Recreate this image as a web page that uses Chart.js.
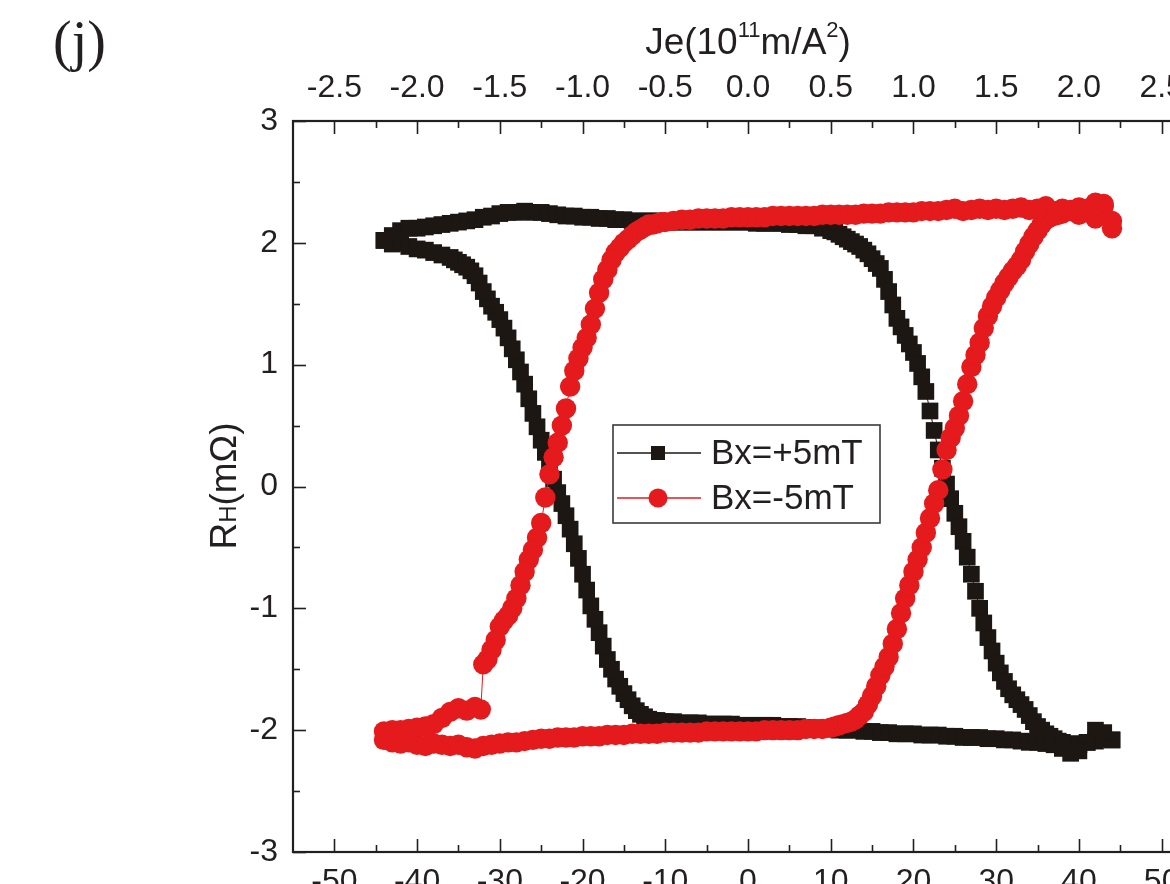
<!DOCTYPE html>
<html><head><meta charset="utf-8">
<script src="https://cdn.jsdelivr.net/npm/chart.js@4.4.0/dist/chart.umd.min.js"></script>
<style>
html,body{margin:0;padding:0;background:#fff;overflow:hidden;width:1170px;height:884px}
#wrap{position:absolute;left:0;top:0;width:1240px;height:930px}
</style></head><body>
<div id="wrap"><canvas id="c" width="1240" height="930"></canvas></div>
<script>
// ---- data (J in mA, R_H in mOhm), sweep order as measured ----
const blackJ = [
 -44,-43,-42,-41,-40,-39,-38,-37,-36,-35,
 -34,-33,-32,-31,-30,-29,-28,-27,-26,-25,
 -24,-23,-22,-21,-20,-19,-18,-17,-16,-15,
 -14,-13,-12,-11,-10,-9,-8,-7,-6,-5,
 -4,-3,-2,-1,0,1,2,3,4,5,
 6,7,8,9,
 10,10.5,11,11.5,12,12.5,13,13.5,14,14.5,
 15,15.5,16,16.5,17,17.5,18,18.5,19,19.5,
 20,20.5,21,21.5,22,22.5,23,23.5,24,24.5,
 25,25.5,26,26.5,27,27.5,28,28.5,29,29.5,
 30,30.5,31,31.5,32,32.5,33,33.5,34,34.5,
 35,35.5,36,36.5,37,37.5,38,
 39,40,41,42,43,44,
 44,43,42,41,40,39,38,37,36,35,
 34,33,32,31,30,29,28,27,26,25,
 24,23,22,21,20,19,18,17,16,15,
 14,13,12,11,10,9,8,7,6,5,
 4,3,2,1,0,-1,-2,-3,-4,-5,
 -6,-7,-8,-9,
 -10,-10.5,-11,-11.5,-12,-12.5,-13,-13.5,-14,-14.5,
 -15,-15.5,-16,-16.5,-17,-17.5,-18,-18.5,-19,-19.5,
 -20,-20.5,-21,-21.5,-22,-22.5,-23,-23.5,-24,-24.5,
 -25,-25.5,-26,-26.5,-27,-27.5,-28,-28.5,-29,-29.5,
 -30,-30.5,-31,-31.5,-32,-32.5,-33,-33.5,-34,-34.5,
 -35,-35.5,-36,
 -37,-38,-39,-40,-41,-42,-43,-44
];
const blackR = [
 2.02,2.06,2.10,2.12,2.12,2.13,2.14,2.15,2.16,2.17,
 2.18,2.19,2.21,2.22,2.24,2.25,2.25,2.26,2.25,2.25,
 2.24,2.23,2.22,2.22,2.21,2.21,2.20,2.20,2.19,2.19,
 2.18,2.18,2.18,2.18,2.17,2.17,2.17,2.17,2.17,2.17,
 2.17,2.17,2.17,2.17,2.17,2.16,2.16,2.16,2.16,2.15,
 2.15,2.14,2.14,2.12,
 2.10,2.09,2.07,2.05,2.03,2.01,1.99,1.97,1.94,1.91,
 1.87,1.83,1.79,1.70,1.60,1.49,1.38,1.31,1.24,1.17,
 1.10,1.01,0.90,0.78,0.62,0.46,0.30,0.15,0.02,-0.10,
 -0.22,-0.33,-0.45,-0.58,-0.72,-0.86,-1.00,-1.12,-1.24,-1.35,
 -1.45,-1.53,-1.60,-1.66,-1.71,-1.75,-1.79,-1.83,-1.88,-1.93,
 -1.97,-2.00,-2.03,-2.05,-2.07,-2.09,-2.10,
 -2.11,-2.12,-2.10,-2.09,-2.07,-2.08,
 -2.08,-2.02,-2.00,-2.10,-2.17,-2.19,-2.15,-2.12,-2.11,-2.10,
 -2.10,-2.09,-2.08,-2.08,-2.07,-2.07,-2.06,-2.06,-2.06,-2.05,
 -2.05,-2.04,-2.04,-2.04,-2.03,-2.03,-2.03,-2.02,-2.02,-2.01,
 -2.01,-2.00,-2.00,-2.00,-1.99,-1.99,-1.98,-1.98,-1.97,-1.97,
 -1.97,-1.96,-1.96,-1.96,-1.96,-1.96,-1.95,-1.95,-1.95,-1.95,
 -1.94,-1.94,-1.94,-1.93,
 -1.93,-1.93,-1.92,-1.92,-1.91,-1.89,-1.87,-1.84,-1.80,-1.75,
 -1.70,-1.64,-1.58,-1.50,-1.42,-1.31,-1.20,-1.09,-0.98,-0.85,
 -0.72,-0.59,-0.47,-0.35,-0.24,-0.14,-0.05,0.06,0.17,0.28,
 0.38,0.49,0.60,0.72,0.84,0.94,1.04,1.13,1.22,1.30,
 1.37,1.43,1.48,1.54,1.60,1.67,1.73,1.77,1.80,1.82,
 1.84,1.86,1.88,
 1.90,1.92,1.94,1.95,1.97,2.00,1.99,2.02
];
const redJ = [
 -44,-43,-42,-41,-40,-39,-38,-37,-36,-35,
 -34,-33,-32,-31,-30,-29,-28,-27,-26,-25,
 -24,-23,-22,-21,-20,-19,-18,-17,-16,-15,
 -14,-13,-12,-11,-10,-9,-8,-7,-6,-5,
 -4,-3,-2,-1,0,1,2,3,4,5,
 6,7,8,9,
 10,10.5,11,11.5,12,12.5,13,13.5,14,14.5,
 15,15.5,16,16.5,17,17.5,18,18.5,19,19.5,
 20,20.5,21,21.5,22,22.5,23,23.5,24,24.5,
 25,25.5,26,26.5,27,27.5,28,28.5,29,29.5,
 30,30.5,31,31.5,32,32.5,33,33.5,34,34.5,
 35,35.5,36,36.5,37,37.5,38,
 39,40,41,42,43,44,
 44,43,42,41,40,39,38,37,36,35,
 34,33,32,31,30,29,28,27,26,25,
 24,23,22,21,20,19,18,17,16,15,
 14,13,12,11,10,9,8,7,6,5,
 4,3,2,1,0,-1,-2,-3,-4,-5,
 -6,-7,-8,-9,
 -10,-10.5,-11,-11.5,-12,-12.5,-13,-13.5,-14,-14.5,
 -15,-15.5,-16,-16.5,-17,-17.5,-18,-18.5,-19,-19.5,
 -20,-20.5,-21,-21.5,-22,-22.5,-23,-23.5,-24,-24.5,
 -25,-25.5,-26,-26.5,-27,-27.5,-28,-28.5,-29,-29.5,
 -30,-30.5,-31,-31.5,-32,
 -32.3,-33,-34,-35,-36,-37,-38,-39,-40,-41,-42,-43,-44
];
const redR = [
 -2.08,-2.10,-2.11,-2.10,-2.12,-2.13,-2.11,-2.12,-2.13,-2.12,
 -2.14,-2.15,-2.13,-2.12,-2.11,-2.10,-2.10,-2.09,-2.08,-2.07,
 -2.07,-2.06,-2.06,-2.06,-2.05,-2.05,-2.05,-2.04,-2.04,-2.04,
 -2.03,-2.03,-2.03,-2.03,-2.02,-2.02,-2.02,-2.02,-2.02,-2.01,
 -2.01,-2.01,-2.01,-2.01,-2.01,-2.01,-2.00,-2.00,-2.00,-2.00,
 -2.00,-1.99,-1.99,-1.99,
 -1.98,-1.97,-1.96,-1.95,-1.94,-1.93,-1.91,-1.88,-1.85,-1.79,
 -1.72,-1.64,-1.55,-1.48,-1.40,-1.29,-1.17,-1.04,-0.92,-0.81,
 -0.70,-0.60,-0.50,-0.38,-0.26,-0.14,-0.03,0.14,0.30,0.40,
 0.48,0.58,0.70,0.84,0.98,1.08,1.18,1.30,1.40,1.48,
 1.55,1.61,1.67,1.72,1.77,1.81,1.86,1.93,1.99,2.05,
 2.10,2.15,2.19,2.21,2.22,2.23,2.24,
 2.26,2.23,2.28,2.33,2.30,2.18,
 2.12,2.32,2.20,2.25,2.29,2.27,2.28,2.26,2.30,2.28,
 2.27,2.29,2.28,2.27,2.28,2.27,2.28,2.27,2.26,2.28,
 2.27,2.26,2.26,2.26,2.25,2.25,2.25,2.25,2.24,2.24,
 2.24,2.23,2.23,2.23,2.23,2.23,2.22,2.22,2.22,2.22,
 2.22,2.22,2.21,2.21,2.21,2.21,2.21,2.20,2.20,2.20,
 2.20,2.19,2.19,2.18,
 2.17,2.17,2.16,2.15,2.15,2.13,2.11,2.09,2.06,2.03,
 2.00,1.96,1.92,1.86,1.78,1.70,1.59,1.46,1.33,1.22,
 1.14,1.05,0.95,0.82,0.64,0.50,0.36,0.24,0.10,-0.09,
 -0.30,-0.42,-0.52,-0.60,-0.70,-0.81,-0.92,-1.00,-1.06,-1.10,
 -1.15,-1.26,-1.34,-1.42,-1.46,
 -1.83,-1.81,-1.84,-1.82,-1.85,-1.90,-1.95,-1.97,-1.98,-1.99,-2.00,-2.00,-2.01
];
const seriesLabels = ['Bx=+5mT', 'Bx=-5mT'];
const xTicks = [-50,-40,-30,-20,-10,0,10,20,30,40,50];
const xMinorTicks = [-45,-35,-25,-15,-5,5,15,25,35,45];
const jeTicks = [-2.5,-2.0,-1.5,-1.0,-0.5,0.0,0.5,1.0,1.5,2.0,2.5];
const jeMinorTicks = [-2.25,-1.75,-1.25,-0.75,-0.25,0.25,0.75,1.25,1.75,2.25];
const yTicks = [-3,-2,-1,0,1,2,3];
const yMinorTicks = [-2.5,-1.5,-0.5,0.5,1.5,2.5];

// ---- styling ----
const W = 1240, H = 930;
const AREA = {left: 293, top: 121, right: 1203, bottom: 852};
const INK = '#231f20';
const BLACK = '#1d1714';
const RED = '#e41a1c';
const SANS = "'Liberation Sans', Arial, sans-serif";
const SERIF = "'Liberation Serif', 'Times New Roman', serif";

const toPts = (xs, ys) => xs.map((x, i) => ({x, y: ys[i]}));
const setTicks = arr => s => { s.ticks = arr.map(v => ({value: v})); };

const frameTicks = {
  id: 'frameTicks',
  afterDraw(chart) {
    const {ctx, chartArea: a, scales} = chart;
    ctx.save();
    ctx.strokeStyle = INK;
    ctx.lineWidth = 1.6;
    const vt = (sc, vals, len, fromTop) => vals.forEach(v => {
      const p = Math.round(sc.getPixelForValue(v)) + 0.5;
      ctx.beginPath();
      if (fromTop) { ctx.moveTo(p, a.top); ctx.lineTo(p, a.top + len); }
      else { ctx.moveTo(p, a.bottom); ctx.lineTo(p, a.bottom - len); }
      ctx.stroke();
    });
    const ht = (sc, vals, len) => vals.forEach(v => {
      const p = Math.round(sc.getPixelForValue(v)) + 0.5;
      ctx.beginPath(); ctx.moveTo(a.left, p); ctx.lineTo(a.left + len, p); ctx.stroke();
      ctx.beginPath(); ctx.moveTo(a.right, p); ctx.lineTo(a.right - len, p); ctx.stroke();
    });
    vt(scales.x, xTicks, 13, false);
    vt(scales.x, xMinorTicks, 7, false);
    vt(scales.x2, jeTicks, 13, true);
    vt(scales.x2, jeMinorTicks, 7, true);
    ht(scales.y, yTicks, 13);
    ht(scales.y, yMinorTicks, 7);
    ctx.lineWidth = 2.2;
    ctx.strokeRect(a.left, a.top, a.right - a.left, a.bottom - a.top);
    ctx.restore();
  }
};

const texts = {
  id: 'texts',
  afterDraw(chart) {
    const {ctx, data} = chart;
    ctx.save();
    ctx.fillStyle = INK;
    ctx.textBaseline = 'alphabetic';
    // panel label
    ctx.font = `56px ${SERIF}`;
    ctx.textAlign = 'left';
    ctx.fillText('(j)', 53, 60);
    // top axis title with superscripts
    const parts = [['Je(10', 37, 0], ['11', 22, -17], ['m/A', 37, 0], ['2', 22, -17], [')', 37, 0]];
    let tw = 0;
    parts.forEach(p => { ctx.font = `${p[1]}px ${SANS}`; tw += ctx.measureText(p[0]).width; });
    let x = 748 - tw / 2;
    parts.forEach(p => { ctx.font = `${p[1]}px ${SANS}`; ctx.fillText(p[0], x, 54 + p[2]); x += ctx.measureText(p[0]).width; });
    // y axis title R_H(mΩ)
    ctx.translate(236, 486);
    ctx.rotate(-Math.PI / 2);
    const yp = [['R', 37], ['H', 24], ['(mΩ)', 37]];
    tw = 0;
    yp.forEach(p => { ctx.font = `${p[1]}px ${SANS}`; tw += ctx.measureText(p[0]).width; });
    x = -tw / 2;
    yp.forEach(p => { ctx.font = `${p[1]}px ${SANS}`; ctx.fillText(p[0], x, 0); x += ctx.measureText(p[0]).width; });
    ctx.restore();

    // legend
    ctx.save();
    const bx = 613, by = 425, bw = 267, bh = 98;
    ctx.fillStyle = '#fff';
    ctx.fillRect(bx, by, bw, bh);
    ctx.strokeStyle = '#3a3a3a';
    ctx.lineWidth = 1.6;
    ctx.strokeRect(bx, by, bw, bh);
    const rows = [by + 28, by + 73];
    data.datasets.forEach((ds, i) => {
      const yy = rows[i];
      ctx.strokeStyle = ds.borderColor;
      ctx.lineWidth = 1.3;
      ctx.beginPath(); ctx.moveTo(bx + 4, yy); ctx.lineTo(bx + 88, yy); ctx.stroke();
      ctx.fillStyle = ds.pointBackgroundColor;
      if (ds.pointStyle === 'rect') ctx.fillRect(bx + 38, yy - 7, 14, 14);
      else { ctx.beginPath(); ctx.arc(bx + 45, yy, 9.5, 0, Math.PI * 2); ctx.fill(); }
      ctx.fillStyle = INK;
      ctx.font = `35px ${SANS}`;
      ctx.textAlign = 'left';
      ctx.textBaseline = 'middle';
      ctx.fillText(ds.label, bx + 98, yy + 1);
    });
    ctx.restore();
  }
};

const tickFont = {family: SANS, size: 32};

new Chart(document.getElementById('c'), {
  type: 'scatter',
  data: {
    datasets: [
      {label: seriesLabels[0], data: toPts(blackJ, blackR), showLine: true, tension: 0,
       borderColor: BLACK, borderWidth: 1, pointStyle: 'rect', pointRadius: 11.8,
       pointBackgroundColor: BLACK, pointBorderWidth: 0, order: 1},
      {label: seriesLabels[1], data: toPts(redJ, redR), showLine: true, tension: 0,
       borderColor: RED, borderWidth: 1, pointStyle: 'circle', pointRadius: 10.2,
       pointBackgroundColor: RED, pointBorderWidth: 0, order: 0}
    ]
  },
  options: {
    responsive: false, animation: false, devicePixelRatio: 1,
    layout: {padding: {left: 0, top: 0, bottom: 0, right: W - AREA.right}},
    plugins: {legend: {display: false}, tooltip: {enabled: false}, title: {display: false}},
    scales: {
      x: {type: 'linear', position: 'bottom', min: -55, max: 55,
          afterBuildTicks: setTicks(xTicks),
          afterFit: s => { s.height = H - AREA.bottom; },
          grid: {display: false, drawTicks: false}, border: {display: false},
          ticks: {font: tickFont, color: INK, padding: 11, maxRotation: 0, autoSkip: false, callback: v => String(v)}},
      x2: {type: 'linear', position: 'top', min: -2.75, max: 2.75,
          afterBuildTicks: setTicks(jeTicks),
          afterFit: s => { s.height = AREA.top; },
          grid: {display: false, drawTicks: false}, border: {display: false},
          ticks: {font: tickFont, color: INK, padding: 14, maxRotation: 0, autoSkip: false, callback: v => Number(v).toFixed(1)}},
      y: {type: 'linear', position: 'left', min: -3, max: 3,
          afterBuildTicks: setTicks(yTicks),
          afterFit: s => { s.width = AREA.left; },
          grid: {display: false, drawTicks: false}, border: {display: false},
          ticks: {font: tickFont, color: INK, padding: 15, autoSkip: false, callback: v => String(v)}}
    }
  },
  plugins: [frameTicks, texts]
});
</script>
</body></html>
